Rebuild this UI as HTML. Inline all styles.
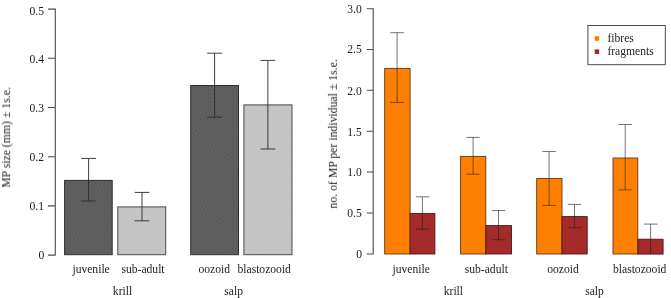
<!DOCTYPE html>
<html><head><meta charset="utf-8">
<style>
html,body{margin:0;padding:0;background:#fff;}
svg{display:block;}
text{font-family:"Liberation Serif",serif;font-size:11.6px;fill:#1c1c1c;}
.yl{font-size:11.75px;}
</style></head><body>
<svg width="671" height="298" viewBox="0 0 671 298">
<defs>
<pattern id="hd" width="2.5" height="2.5" patternUnits="userSpaceOnUse" patternTransform="rotate(-50)">
<rect width="2.5" height="2.5" fill="#666666"/><rect width="2.5" height="1.1" fill="#525252"/>
</pattern>
<pattern id="hl" width="2.5" height="2.5" patternUnits="userSpaceOnUse" patternTransform="rotate(-50)">
<rect width="2.5" height="2.5" fill="#c7c7c7"/><rect width="2.5" height="1.1" fill="#c2c2c2"/>
</pattern>
<filter id="g" x="-5%" y="-5%" width="110%" height="110%"><feOffset dx="0" dy="0"/></filter>
</defs>
<rect width="671" height="298" fill="#fff"/>
<!-- LEFT -->
<g stroke="#4a4a4a" stroke-width="1.1" fill="none">
<path d="M55.3 8.6V255.6M48 9.1H55.3M48 58.3H55.3M48 107.5H55.3M48 156.7H55.3M48 205.9H55.3M48 255.1H55.3"/>
</g>
<g text-anchor="end" filter="url(#g)">
<text x="44" y="14.7">0.5</text>
<text x="44" y="63.2">0.4</text>
<text x="44" y="111.8">0.3</text>
<text x="44" y="160.6">0.2</text>
<text x="44" y="209.8">0.1</text>
<text x="44.3" y="259.3">0</text>
</g>
<text class="yl" filter="url(#g)" transform="translate(10.1,137.5) rotate(-90)" text-anchor="middle">MP size (mm) ± 1s.e.</text>
<g stroke="#2e2e2e" stroke-width="1">
<rect x="64.6" y="180.4" width="47.6" height="74.3" fill="url(#hd)"/>
<rect x="190.7" y="85.5" width="47.8" height="169.2" fill="url(#hd)"/>
</g>
<g stroke="#4a4a4a" stroke-width="1">
<rect x="117.8" y="206.9" width="47.9" height="47.8" fill="url(#hl)"/>
<rect x="243.9" y="104.9" width="48.1" height="149.8" fill="url(#hl)"/>
</g>
<g stroke="#2b2b2b" stroke-width="1" fill="none" stroke-opacity="0.9">
<path d="M88.6 158.4V201M81.2 158.4H96M81.2 201H96"/>
<path d="M142 192.4V220.8M134.6 192.4H149.4M134.6 220.8H149.4"/>
<path d="M214.6 53.2V117.2M207.2 53.2H222.1M207.2 117.2H222.1"/>
<path d="M267.9 60.4V149M260.5 60.4H275.3M260.5 149H275.3"/>
</g>
<g text-anchor="middle" filter="url(#g)">
<text x="91.1" y="272.6">juvenile</text>
<text x="143" y="272.6">sub-adult</text>
<text x="214.3" y="272.6">oozoid</text>
<text x="264.2" y="272.6">blastozooid</text>
<text x="122.5" y="295.1">krill</text>
<text x="233.7" y="295.1">salp</text>
</g>
<!-- RIGHT -->
<g stroke="#4a4a4a" stroke-width="1.1" fill="none">
<path d="M373.2 8.2V254.5M366.7 8.7H373.2M366.7 49.5H373.2M366.7 90.2H373.2M366.7 131.2H373.2M366.7 172H373.2M366.7 213H373.2M366.7 254H373.2"/>
</g>
<g text-anchor="end" filter="url(#g)">
<text x="361.7" y="13">3.0</text>
<text x="361.7" y="53.4">2.5</text>
<text x="361.7" y="94.6">2.0</text>
<text x="361.7" y="135.5">1.5</text>
<text x="361.7" y="176.3">1.0</text>
<text x="361.7" y="217.2">0.5</text>
<text x="362" y="258">0</text>
</g>
<text class="yl" filter="url(#g)" transform="translate(336.9,133.8) rotate(-90)" text-anchor="middle">no. of MP per individual ± 1s.e.</text>
<g stroke="#5a3a1e" stroke-width="0.9">
<rect x="384.7" y="68.4" width="25.4" height="185.6" fill="#ff8000"/>
<rect x="460.6" y="156.4" width="25.2" height="97.6" fill="#ff8000"/>
<rect x="536.7" y="178.4" width="25.3" height="75.6" fill="#ff8000"/>
<rect x="613" y="158" width="24.8" height="96" fill="#ff8000"/>
</g>
<g stroke="#4a1a1a" stroke-width="0.9">
<rect x="410.1" y="213.4" width="24.8" height="40.6" fill="#a52a2a"/>
<rect x="485.8" y="225.6" width="25.7" height="28.4" fill="#a52a2a"/>
<rect x="562" y="216.6" width="25.2" height="37.4" fill="#a52a2a"/>
<rect x="638" y="239.2" width="25.1" height="14.9" fill="#a52a2a"/>
</g>
<g stroke="#222" stroke-width="1" fill="none" stroke-opacity="0.62">
<path d="M397.1 32.7V102.4M390.4 32.7H403.9M390.4 102.4H403.9"/>
<path d="M422.4 196.8V229.2M415.8 196.8H429.2M415.8 229.2H429.2"/>
<path d="M473.1 137.4V174.2M466.4 137.4H479.8M466.4 174.2H479.8"/>
<path d="M498.5 210.5V239.7M491.8 210.5H505.2M491.8 239.7H505.2"/>
<path d="M549.1 151.5V205.4M542.4 151.5H555.9M542.4 205.4H555.9"/>
<path d="M574.5 204.4V227.7M567.8 204.4H581.2M567.8 227.7H581.2"/>
<path d="M625.2 124.5V189.9M618.4 124.5H631.9M618.4 189.9H631.9"/>
<path d="M650.6 224.1V254.1M644 224.1H657.4"/>
</g>
<g text-anchor="middle" filter="url(#g)">
<text x="411.2" y="272.6">juvenile</text>
<text x="486.3" y="272.6">sub-adult</text>
<text x="563" y="272.6">oozoid</text>
<text x="639.7" y="272.6">blastozooid</text>
<text x="453.4" y="295.1">krill</text>
<text x="594.5" y="295.1">salp</text>
</g>
<rect x="587.9" y="25.5" width="77.4" height="39.2" fill="#fff" stroke="#4a4a4a" stroke-width="1"/>
<rect x="594.7" y="36.2" width="4.5" height="4.6" fill="#ff8000"/>
<rect x="594.7" y="49.4" width="4.5" height="4.6" fill="#a52a2a"/>
<g filter="url(#g)"><text x="607.4" y="41.6">fibres</text>
<text x="607.4" y="54.5">fragments</text></g>
</svg>
</body></html>
